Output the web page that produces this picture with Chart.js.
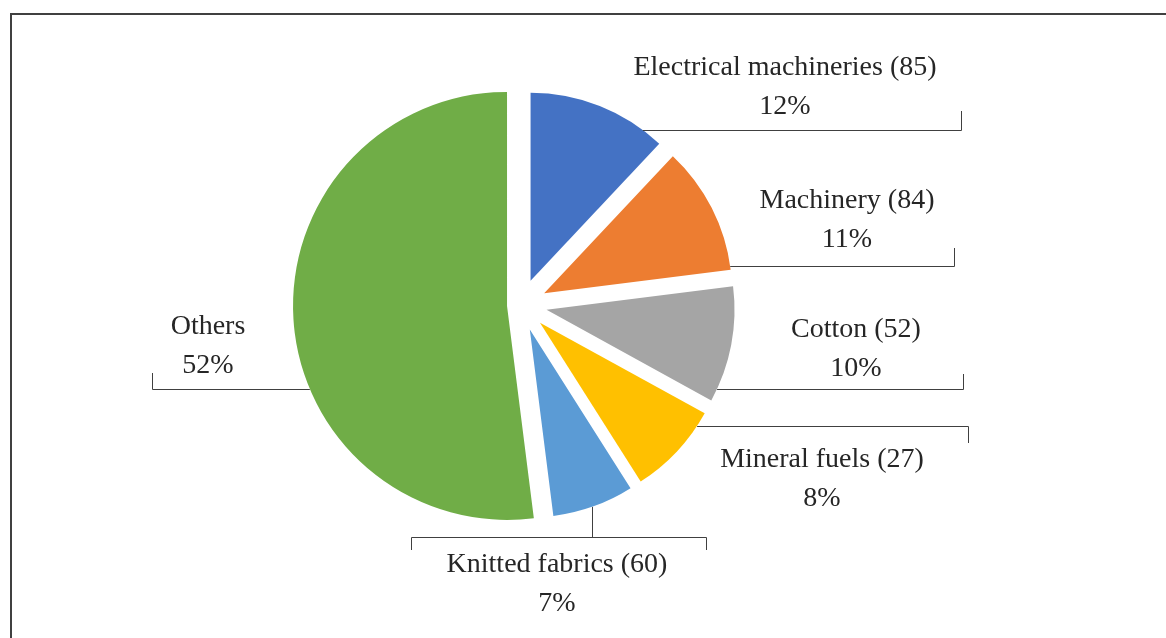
<!DOCTYPE html>
<html>
<head>
<meta charset="utf-8">
<script src="https://cdn.jsdelivr.net/npm/chart.js@4/dist/chart.umd.min.js"></script>
<style>
    html, body { margin: 0; padding: 0; background: #fff; overflow: hidden; }
    .frame {
        position: absolute; left: 10px; top: 13px; width: 1200px; height: 700px;
        border-left: 2px solid #404040; border-top: 2px solid #404040;
    }
    #graficoPizza { position: absolute; left: 0; top: 0; }
</style>
</head>
<body>
<div class="frame"></div>
<canvas id="graficoPizza" width="1166" height="638"></canvas>
<script>
const categorias = ['Electrical machineries', 'Machinery', 'Cotton', 'Mineral fuels', 'Knitted fabrics', 'Others'];
const contagens = [85, 84, 52, 27, 60, null];
const percentuais = [12, 11, 10, 8, 7, 52];
const cores = ['#4472C4', '#ED7D31', '#A5A5A5', '#FFC000', '#5B9BD5', '#70AD47'];

// how far each slice is pulled out, and its radius
const explode = [26, 26, 26, 26, 26, 14];
const raio = [188, 188, 188, 188, 188, 214];

// where each label sits and how its leader line runs
const rotulos = [
    { x: 785, y: 75, lineY: 130, farX: 961, tickY: 111 },
    { x: 847, y: 208, lineY: 266, farX: 954, tickY: 248 },
    { x: 856, y: 337, lineY: 389, farX: 963, tickY: 374 },
    { x: 822, y: 467, lineY: 426, farX: 968, tickY: 443 },
    { x: 557, y: 572, lineX: 592, lineY: 537, left: 411, right: 706, tickY: 550 },
    { x: 208, y: 334, lineY: 389, farX: 152, tickY: 373 }
];

const explodir = {
    id: 'explodir',
    afterDatasetsUpdate(chart) {
        const arcs = chart.getDatasetMeta(0).data;
        arcs.forEach((arc, i) => {
            const meio = (arc.startAngle + arc.endAngle) / 2;
            arc.x += Math.cos(meio) * explode[i];
            arc.y += Math.sin(meio) * explode[i];
            arc.outerRadius = raio[i];
        });
    }
};

const rotulosPlugin = {
    id: 'rotulos',
    afterDatasetsDraw(chart) {
        const ctx = chart.ctx;
        const arcs = chart.getDatasetMeta(0).data;
        ctx.save();
        ctx.strokeStyle = '#404040';
        ctx.lineWidth = 1;
        arcs.forEach((arc, i) => {
            const r = rotulos[i];
            const R = arc.outerRadius;
            ctx.beginPath();
            if (r.lineX !== undefined) {
                const y0 = arc.y + Math.sqrt(R * R - (r.lineX - arc.x) ** 2);
                ctx.moveTo(r.lineX + 0.5, y0);
                ctx.lineTo(r.lineX + 0.5, r.lineY + 0.5);
                ctx.moveTo(r.left + 0.5, r.tickY);
                ctx.lineTo(r.left + 0.5, r.lineY + 0.5);
                ctx.lineTo(r.right + 0.5, r.lineY + 0.5);
                ctx.lineTo(r.right + 0.5, r.tickY);
            } else {
                const lado = r.farX > arc.x ? 1 : -1;
                const x0 = arc.x + lado * Math.sqrt(R * R - (r.lineY - arc.y) ** 2);
                ctx.moveTo(x0, r.lineY + 0.5);
                ctx.lineTo(r.farX + 0.5, r.lineY + 0.5);
                ctx.lineTo(r.farX + 0.5, r.tickY);
            }
            ctx.stroke();

            ctx.fillStyle = '#262626';
            ctx.font = '28px "Liberation Serif", serif';
            ctx.textAlign = 'center';
            ctx.textBaseline = 'alphabetic';
            const nome = contagens[i] !== null ? categorias[i] + ' (' + contagens[i] + ')' : categorias[i];
            ctx.fillText(nome, r.x, r.y);
            ctx.fillText(percentuais[i] + '%', r.x, r.y + 38.5);
        });
        ctx.restore();
    }
};

const ctx = document.getElementById('graficoPizza');

new Chart(ctx, {
    type: 'pie',
    data: {
        labels: categorias,
        datasets: [
            {
                data: percentuais,
                backgroundColor: cores,
                borderWidth: 0
            }
        ]
    },
    options: {
        responsive: false,
        animation: false,
        events: [],
        radius: 188,
        layout: { padding: { left: 0, right: 124, top: 0, bottom: 28 } },
        plugins: {
            legend: { display: false },
            tooltip: { enabled: false }
        }
    },
    plugins: [explodir, rotulosPlugin]
});
</script>
</body>
</html>
